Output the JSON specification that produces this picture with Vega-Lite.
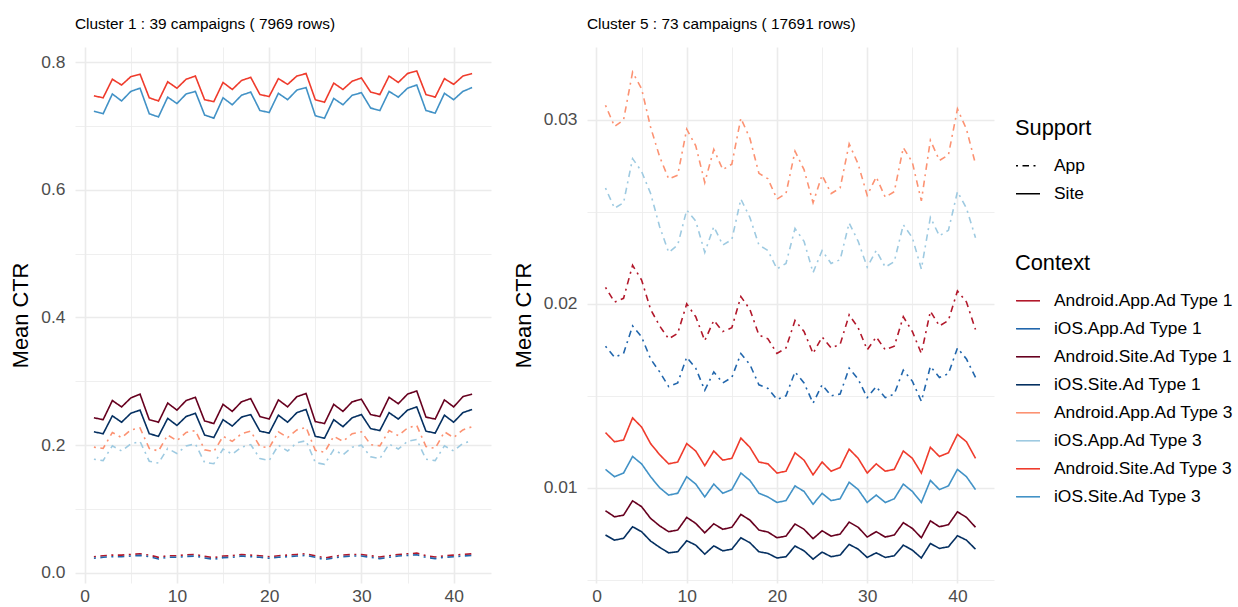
{
"$schema": "https://vega.github.io/schema/vega-lite/v6.json",
"padding": {"left": 10, "top": 17, "right": 5, "bottom": 0},
"background": "white",
"config": {
  "font": "Liberation Sans",
  "view": {"stroke": null},
  "axis": {"ticks": false, "domain": false, "gridColor": "#EBEBEB", "labelColor": "#4D4D4D", "labelFontSize": 17.4, "titleFontSize": 21.8, "titleFontWeight": "normal", "titleColor": "#000000"},
  "legend": {"labelFontSize": 17.4, "titleFontSize": 21.8, "titleFontWeight": "normal", "labelColor": "#000000", "titleColor": "#000000", "labelLimit": 400},
  "title": {"fontSize": 15.4, "fontWeight": "normal", "color": "#000000", "anchor": "start", "frame": "group", "offset": 14.5}
},
"data": {"values": [
{"p":"c1","c":"Android.App.Ad Type 1","s":"App","x":1,"y":0.0255},{"p":"c1","c":"Android.App.Ad Type 1","s":"App","x":2,"y":0.027},{"p":"c1","c":"Android.App.Ad Type 1","s":"App","x":3,"y":0.028},{"p":"c1","c":"Android.App.Ad Type 1","s":"App","x":4,"y":0.028},{"p":"c1","c":"Android.App.Ad Type 1","s":"App","x":5,"y":0.029},{"p":"c1","c":"Android.App.Ad Type 1","s":"App","x":6,"y":0.030},{"p":"c1","c":"Android.App.Ad Type 1","s":"App","x":7,"y":0.028},{"p":"c1","c":"Android.App.Ad Type 1","s":"App","x":8,"y":0.0245},{"p":"c1","c":"Android.App.Ad Type 1","s":"App","x":9,"y":0.027},{"p":"c1","c":"Android.App.Ad Type 1","s":"App","x":10,"y":0.027},{"p":"c1","c":"Android.App.Ad Type 1","s":"App","x":11,"y":0.0285},{"p":"c1","c":"Android.App.Ad Type 1","s":"App","x":12,"y":0.029},{"p":"c1","c":"Android.App.Ad Type 1","s":"App","x":13,"y":0.026},{"p":"c1","c":"Android.App.Ad Type 1","s":"App","x":14,"y":0.024},{"p":"c1","c":"Android.App.Ad Type 1","s":"App","x":15,"y":0.0265},{"p":"c1","c":"Android.App.Ad Type 1","s":"App","x":16,"y":0.027},{"p":"c1","c":"Android.App.Ad Type 1","s":"App","x":17,"y":0.029},{"p":"c1","c":"Android.App.Ad Type 1","s":"App","x":18,"y":0.028},{"p":"c1","c":"Android.App.Ad Type 1","s":"App","x":19,"y":0.027},{"p":"c1","c":"Android.App.Ad Type 1","s":"App","x":20,"y":0.0255},{"p":"c1","c":"Android.App.Ad Type 1","s":"App","x":21,"y":0.027},{"p":"c1","c":"Android.App.Ad Type 1","s":"App","x":22,"y":0.028},{"p":"c1","c":"Android.App.Ad Type 1","s":"App","x":23,"y":0.029},{"p":"c1","c":"Android.App.Ad Type 1","s":"App","x":24,"y":0.030},{"p":"c1","c":"Android.App.Ad Type 1","s":"App","x":25,"y":0.027},{"p":"c1","c":"Android.App.Ad Type 1","s":"App","x":26,"y":0.0235},{"p":"c1","c":"Android.App.Ad Type 1","s":"App","x":27,"y":0.026},{"p":"c1","c":"Android.App.Ad Type 1","s":"App","x":28,"y":0.028},{"p":"c1","c":"Android.App.Ad Type 1","s":"App","x":29,"y":0.029},{"p":"c1","c":"Android.App.Ad Type 1","s":"App","x":30,"y":0.029},{"p":"c1","c":"Android.App.Ad Type 1","s":"App","x":31,"y":0.027},{"p":"c1","c":"Android.App.Ad Type 1","s":"App","x":32,"y":0.025},{"p":"c1","c":"Android.App.Ad Type 1","s":"App","x":33,"y":0.027},{"p":"c1","c":"Android.App.Ad Type 1","s":"App","x":34,"y":0.029},{"p":"c1","c":"Android.App.Ad Type 1","s":"App","x":35,"y":0.030},{"p":"c1","c":"Android.App.Ad Type 1","s":"App","x":36,"y":0.031},{"p":"c1","c":"Android.App.Ad Type 1","s":"App","x":37,"y":0.027},{"p":"c1","c":"Android.App.Ad Type 1","s":"App","x":38,"y":0.025},{"p":"c1","c":"Android.App.Ad Type 1","s":"App","x":39,"y":0.027},{"p":"c1","c":"Android.App.Ad Type 1","s":"App","x":40,"y":0.028},{"p":"c1","c":"Android.App.Ad Type 1","s":"App","x":41,"y":0.029},{"p":"c1","c":"Android.App.Ad Type 1","s":"App","x":42,"y":0.030},
{"p":"c1","c":"iOS.App.Ad Type 1","s":"App","x":1,"y":0.023},{"p":"c1","c":"iOS.App.Ad Type 1","s":"App","x":2,"y":0.0245},{"p":"c1","c":"iOS.App.Ad Type 1","s":"App","x":3,"y":0.0255},{"p":"c1","c":"iOS.App.Ad Type 1","s":"App","x":4,"y":0.0255},{"p":"c1","c":"iOS.App.Ad Type 1","s":"App","x":5,"y":0.0265},{"p":"c1","c":"iOS.App.Ad Type 1","s":"App","x":6,"y":0.0275},{"p":"c1","c":"iOS.App.Ad Type 1","s":"App","x":7,"y":0.0255},{"p":"c1","c":"iOS.App.Ad Type 1","s":"App","x":8,"y":0.022},{"p":"c1","c":"iOS.App.Ad Type 1","s":"App","x":9,"y":0.0245},{"p":"c1","c":"iOS.App.Ad Type 1","s":"App","x":10,"y":0.0245},{"p":"c1","c":"iOS.App.Ad Type 1","s":"App","x":11,"y":0.026},{"p":"c1","c":"iOS.App.Ad Type 1","s":"App","x":12,"y":0.0265},{"p":"c1","c":"iOS.App.Ad Type 1","s":"App","x":13,"y":0.0235},{"p":"c1","c":"iOS.App.Ad Type 1","s":"App","x":14,"y":0.0215},{"p":"c1","c":"iOS.App.Ad Type 1","s":"App","x":15,"y":0.024},{"p":"c1","c":"iOS.App.Ad Type 1","s":"App","x":16,"y":0.0245},{"p":"c1","c":"iOS.App.Ad Type 1","s":"App","x":17,"y":0.0265},{"p":"c1","c":"iOS.App.Ad Type 1","s":"App","x":18,"y":0.0255},{"p":"c1","c":"iOS.App.Ad Type 1","s":"App","x":19,"y":0.0245},{"p":"c1","c":"iOS.App.Ad Type 1","s":"App","x":20,"y":0.023},{"p":"c1","c":"iOS.App.Ad Type 1","s":"App","x":21,"y":0.0245},{"p":"c1","c":"iOS.App.Ad Type 1","s":"App","x":22,"y":0.0255},{"p":"c1","c":"iOS.App.Ad Type 1","s":"App","x":23,"y":0.0265},{"p":"c1","c":"iOS.App.Ad Type 1","s":"App","x":24,"y":0.0275},{"p":"c1","c":"iOS.App.Ad Type 1","s":"App","x":25,"y":0.0245},{"p":"c1","c":"iOS.App.Ad Type 1","s":"App","x":26,"y":0.021},{"p":"c1","c":"iOS.App.Ad Type 1","s":"App","x":27,"y":0.0235},{"p":"c1","c":"iOS.App.Ad Type 1","s":"App","x":28,"y":0.0255},{"p":"c1","c":"iOS.App.Ad Type 1","s":"App","x":29,"y":0.0265},{"p":"c1","c":"iOS.App.Ad Type 1","s":"App","x":30,"y":0.0265},{"p":"c1","c":"iOS.App.Ad Type 1","s":"App","x":31,"y":0.0245},{"p":"c1","c":"iOS.App.Ad Type 1","s":"App","x":32,"y":0.0225},{"p":"c1","c":"iOS.App.Ad Type 1","s":"App","x":33,"y":0.0245},{"p":"c1","c":"iOS.App.Ad Type 1","s":"App","x":34,"y":0.0265},{"p":"c1","c":"iOS.App.Ad Type 1","s":"App","x":35,"y":0.0275},{"p":"c1","c":"iOS.App.Ad Type 1","s":"App","x":36,"y":0.0285},{"p":"c1","c":"iOS.App.Ad Type 1","s":"App","x":37,"y":0.0245},{"p":"c1","c":"iOS.App.Ad Type 1","s":"App","x":38,"y":0.0225},{"p":"c1","c":"iOS.App.Ad Type 1","s":"App","x":39,"y":0.0245},{"p":"c1","c":"iOS.App.Ad Type 1","s":"App","x":40,"y":0.0255},{"p":"c1","c":"iOS.App.Ad Type 1","s":"App","x":41,"y":0.0265},{"p":"c1","c":"iOS.App.Ad Type 1","s":"App","x":42,"y":0.0275},
{"p":"c1","c":"Android.Site.Ad Type 1","s":"Site","x":1,"y":0.243},{"p":"c1","c":"Android.Site.Ad Type 1","s":"Site","x":2,"y":0.240},{"p":"c1","c":"Android.Site.Ad Type 1","s":"Site","x":3,"y":0.270},{"p":"c1","c":"Android.Site.Ad Type 1","s":"Site","x":4,"y":0.260},{"p":"c1","c":"Android.Site.Ad Type 1","s":"Site","x":5,"y":0.274},{"p":"c1","c":"Android.Site.Ad Type 1","s":"Site","x":6,"y":0.280},{"p":"c1","c":"Android.Site.Ad Type 1","s":"Site","x":7,"y":0.240},{"p":"c1","c":"Android.Site.Ad Type 1","s":"Site","x":8,"y":0.236},{"p":"c1","c":"Android.Site.Ad Type 1","s":"Site","x":9,"y":0.266},{"p":"c1","c":"Android.Site.Ad Type 1","s":"Site","x":10,"y":0.255},{"p":"c1","c":"Android.Site.Ad Type 1","s":"Site","x":11,"y":0.270},{"p":"c1","c":"Android.Site.Ad Type 1","s":"Site","x":12,"y":0.275},{"p":"c1","c":"Android.Site.Ad Type 1","s":"Site","x":13,"y":0.238},{"p":"c1","c":"Android.Site.Ad Type 1","s":"Site","x":14,"y":0.234},{"p":"c1","c":"Android.Site.Ad Type 1","s":"Site","x":15,"y":0.264},{"p":"c1","c":"Android.Site.Ad Type 1","s":"Site","x":16,"y":0.253},{"p":"c1","c":"Android.Site.Ad Type 1","s":"Site","x":17,"y":0.268},{"p":"c1","c":"Android.Site.Ad Type 1","s":"Site","x":18,"y":0.273},{"p":"c1","c":"Android.Site.Ad Type 1","s":"Site","x":19,"y":0.245},{"p":"c1","c":"Android.Site.Ad Type 1","s":"Site","x":20,"y":0.241},{"p":"c1","c":"Android.Site.Ad Type 1","s":"Site","x":21,"y":0.271},{"p":"c1","c":"Android.Site.Ad Type 1","s":"Site","x":22,"y":0.260},{"p":"c1","c":"Android.Site.Ad Type 1","s":"Site","x":23,"y":0.276},{"p":"c1","c":"Android.Site.Ad Type 1","s":"Site","x":24,"y":0.281},{"p":"c1","c":"Android.Site.Ad Type 1","s":"Site","x":25,"y":0.237},{"p":"c1","c":"Android.Site.Ad Type 1","s":"Site","x":26,"y":0.234},{"p":"c1","c":"Android.Site.Ad Type 1","s":"Site","x":27,"y":0.264},{"p":"c1","c":"Android.Site.Ad Type 1","s":"Site","x":28,"y":0.253},{"p":"c1","c":"Android.Site.Ad Type 1","s":"Site","x":29,"y":0.268},{"p":"c1","c":"Android.Site.Ad Type 1","s":"Site","x":30,"y":0.272},{"p":"c1","c":"Android.Site.Ad Type 1","s":"Site","x":31,"y":0.248},{"p":"c1","c":"Android.Site.Ad Type 1","s":"Site","x":32,"y":0.245},{"p":"c1","c":"Android.Site.Ad Type 1","s":"Site","x":33,"y":0.275},{"p":"c1","c":"Android.Site.Ad Type 1","s":"Site","x":34,"y":0.265},{"p":"c1","c":"Android.Site.Ad Type 1","s":"Site","x":35,"y":0.280},{"p":"c1","c":"Android.Site.Ad Type 1","s":"Site","x":36,"y":0.285},{"p":"c1","c":"Android.Site.Ad Type 1","s":"Site","x":37,"y":0.244},{"p":"c1","c":"Android.Site.Ad Type 1","s":"Site","x":38,"y":0.241},{"p":"c1","c":"Android.Site.Ad Type 1","s":"Site","x":39,"y":0.271},{"p":"c1","c":"Android.Site.Ad Type 1","s":"Site","x":40,"y":0.260},{"p":"c1","c":"Android.Site.Ad Type 1","s":"Site","x":41,"y":0.276},{"p":"c1","c":"Android.Site.Ad Type 1","s":"Site","x":42,"y":0.280},
{"p":"c1","c":"iOS.Site.Ad Type 1","s":"Site","x":1,"y":0.221},{"p":"c1","c":"iOS.Site.Ad Type 1","s":"Site","x":2,"y":0.218},{"p":"c1","c":"iOS.Site.Ad Type 1","s":"Site","x":3,"y":0.246},{"p":"c1","c":"iOS.Site.Ad Type 1","s":"Site","x":4,"y":0.236},{"p":"c1","c":"iOS.Site.Ad Type 1","s":"Site","x":5,"y":0.250},{"p":"c1","c":"iOS.Site.Ad Type 1","s":"Site","x":6,"y":0.255},{"p":"c1","c":"iOS.Site.Ad Type 1","s":"Site","x":7,"y":0.218},{"p":"c1","c":"iOS.Site.Ad Type 1","s":"Site","x":8,"y":0.214},{"p":"c1","c":"iOS.Site.Ad Type 1","s":"Site","x":9,"y":0.242},{"p":"c1","c":"iOS.Site.Ad Type 1","s":"Site","x":10,"y":0.231},{"p":"c1","c":"iOS.Site.Ad Type 1","s":"Site","x":11,"y":0.245},{"p":"c1","c":"iOS.Site.Ad Type 1","s":"Site","x":12,"y":0.250},{"p":"c1","c":"iOS.Site.Ad Type 1","s":"Site","x":13,"y":0.216},{"p":"c1","c":"iOS.Site.Ad Type 1","s":"Site","x":14,"y":0.212},{"p":"c1","c":"iOS.Site.Ad Type 1","s":"Site","x":15,"y":0.240},{"p":"c1","c":"iOS.Site.Ad Type 1","s":"Site","x":16,"y":0.230},{"p":"c1","c":"iOS.Site.Ad Type 1","s":"Site","x":17,"y":0.244},{"p":"c1","c":"iOS.Site.Ad Type 1","s":"Site","x":18,"y":0.248},{"p":"c1","c":"iOS.Site.Ad Type 1","s":"Site","x":19,"y":0.222},{"p":"c1","c":"iOS.Site.Ad Type 1","s":"Site","x":20,"y":0.219},{"p":"c1","c":"iOS.Site.Ad Type 1","s":"Site","x":21,"y":0.247},{"p":"c1","c":"iOS.Site.Ad Type 1","s":"Site","x":22,"y":0.236},{"p":"c1","c":"iOS.Site.Ad Type 1","s":"Site","x":23,"y":0.251},{"p":"c1","c":"iOS.Site.Ad Type 1","s":"Site","x":24,"y":0.256},{"p":"c1","c":"iOS.Site.Ad Type 1","s":"Site","x":25,"y":0.214},{"p":"c1","c":"iOS.Site.Ad Type 1","s":"Site","x":26,"y":0.211},{"p":"c1","c":"iOS.Site.Ad Type 1","s":"Site","x":27,"y":0.240},{"p":"c1","c":"iOS.Site.Ad Type 1","s":"Site","x":28,"y":0.229},{"p":"c1","c":"iOS.Site.Ad Type 1","s":"Site","x":29,"y":0.243},{"p":"c1","c":"iOS.Site.Ad Type 1","s":"Site","x":30,"y":0.248},{"p":"c1","c":"iOS.Site.Ad Type 1","s":"Site","x":31,"y":0.226},{"p":"c1","c":"iOS.Site.Ad Type 1","s":"Site","x":32,"y":0.223},{"p":"c1","c":"iOS.Site.Ad Type 1","s":"Site","x":33,"y":0.251},{"p":"c1","c":"iOS.Site.Ad Type 1","s":"Site","x":34,"y":0.241},{"p":"c1","c":"iOS.Site.Ad Type 1","s":"Site","x":35,"y":0.255},{"p":"c1","c":"iOS.Site.Ad Type 1","s":"Site","x":36,"y":0.260},{"p":"c1","c":"iOS.Site.Ad Type 1","s":"Site","x":37,"y":0.222},{"p":"c1","c":"iOS.Site.Ad Type 1","s":"Site","x":38,"y":0.219},{"p":"c1","c":"iOS.Site.Ad Type 1","s":"Site","x":39,"y":0.247},{"p":"c1","c":"iOS.Site.Ad Type 1","s":"Site","x":40,"y":0.236},{"p":"c1","c":"iOS.Site.Ad Type 1","s":"Site","x":41,"y":0.251},{"p":"c1","c":"iOS.Site.Ad Type 1","s":"Site","x":42,"y":0.256},
{"p":"c1","c":"Android.App.Ad Type 3","s":"App","x":1,"y":0.197},{"p":"c1","c":"Android.App.Ad Type 3","s":"App","x":2,"y":0.195},{"p":"c1","c":"Android.App.Ad Type 3","s":"App","x":3,"y":0.220},{"p":"c1","c":"Android.App.Ad Type 3","s":"App","x":4,"y":0.212},{"p":"c1","c":"Android.App.Ad Type 3","s":"App","x":5,"y":0.224},{"p":"c1","c":"Android.App.Ad Type 3","s":"App","x":6,"y":0.227},{"p":"c1","c":"Android.App.Ad Type 3","s":"App","x":7,"y":0.195},{"p":"c1","c":"Android.App.Ad Type 3","s":"App","x":8,"y":0.191},{"p":"c1","c":"Android.App.Ad Type 3","s":"App","x":9,"y":0.216},{"p":"c1","c":"Android.App.Ad Type 3","s":"App","x":10,"y":0.207},{"p":"c1","c":"Android.App.Ad Type 3","s":"App","x":11,"y":0.220},{"p":"c1","c":"Android.App.Ad Type 3","s":"App","x":12,"y":0.223},{"p":"c1","c":"Android.App.Ad Type 3","s":"App","x":13,"y":0.193},{"p":"c1","c":"Android.App.Ad Type 3","s":"App","x":14,"y":0.190},{"p":"c1","c":"Android.App.Ad Type 3","s":"App","x":15,"y":0.214},{"p":"c1","c":"Android.App.Ad Type 3","s":"App","x":16,"y":0.206},{"p":"c1","c":"Android.App.Ad Type 3","s":"App","x":17,"y":0.218},{"p":"c1","c":"Android.App.Ad Type 3","s":"App","x":18,"y":0.222},{"p":"c1","c":"Android.App.Ad Type 3","s":"App","x":19,"y":0.198},{"p":"c1","c":"Android.App.Ad Type 3","s":"App","x":20,"y":0.196},{"p":"c1","c":"Android.App.Ad Type 3","s":"App","x":21,"y":0.221},{"p":"c1","c":"Android.App.Ad Type 3","s":"App","x":22,"y":0.212},{"p":"c1","c":"Android.App.Ad Type 3","s":"App","x":23,"y":0.224},{"p":"c1","c":"Android.App.Ad Type 3","s":"App","x":24,"y":0.228},{"p":"c1","c":"Android.App.Ad Type 3","s":"App","x":25,"y":0.192},{"p":"c1","c":"Android.App.Ad Type 3","s":"App","x":26,"y":0.189},{"p":"c1","c":"Android.App.Ad Type 3","s":"App","x":27,"y":0.214},{"p":"c1","c":"Android.App.Ad Type 3","s":"App","x":28,"y":0.206},{"p":"c1","c":"Android.App.Ad Type 3","s":"App","x":29,"y":0.218},{"p":"c1","c":"Android.App.Ad Type 3","s":"App","x":30,"y":0.221},{"p":"c1","c":"Android.App.Ad Type 3","s":"App","x":31,"y":0.201},{"p":"c1","c":"Android.App.Ad Type 3","s":"App","x":32,"y":0.199},{"p":"c1","c":"Android.App.Ad Type 3","s":"App","x":33,"y":0.223},{"p":"c1","c":"Android.App.Ad Type 3","s":"App","x":34,"y":0.215},{"p":"c1","c":"Android.App.Ad Type 3","s":"App","x":35,"y":0.227},{"p":"c1","c":"Android.App.Ad Type 3","s":"App","x":36,"y":0.231},{"p":"c1","c":"Android.App.Ad Type 3","s":"App","x":37,"y":0.198},{"p":"c1","c":"Android.App.Ad Type 3","s":"App","x":38,"y":0.195},{"p":"c1","c":"Android.App.Ad Type 3","s":"App","x":39,"y":0.221},{"p":"c1","c":"Android.App.Ad Type 3","s":"App","x":40,"y":0.212},{"p":"c1","c":"Android.App.Ad Type 3","s":"App","x":41,"y":0.224},{"p":"c1","c":"Android.App.Ad Type 3","s":"App","x":42,"y":0.229},
{"p":"c1","c":"iOS.App.Ad Type 3","s":"App","x":1,"y":0.178},{"p":"c1","c":"iOS.App.Ad Type 3","s":"App","x":2,"y":0.176},{"p":"c1","c":"iOS.App.Ad Type 3","s":"App","x":3,"y":0.199},{"p":"c1","c":"iOS.App.Ad Type 3","s":"App","x":4,"y":0.191},{"p":"c1","c":"iOS.App.Ad Type 3","s":"App","x":5,"y":0.202},{"p":"c1","c":"iOS.App.Ad Type 3","s":"App","x":6,"y":0.206},{"p":"c1","c":"iOS.App.Ad Type 3","s":"App","x":7,"y":0.175},{"p":"c1","c":"iOS.App.Ad Type 3","s":"App","x":8,"y":0.172},{"p":"c1","c":"iOS.App.Ad Type 3","s":"App","x":9,"y":0.195},{"p":"c1","c":"iOS.App.Ad Type 3","s":"App","x":10,"y":0.187},{"p":"c1","c":"iOS.App.Ad Type 3","s":"App","x":11,"y":0.199},{"p":"c1","c":"iOS.App.Ad Type 3","s":"App","x":12,"y":0.202},{"p":"c1","c":"iOS.App.Ad Type 3","s":"App","x":13,"y":0.173},{"p":"c1","c":"iOS.App.Ad Type 3","s":"App","x":14,"y":0.171},{"p":"c1","c":"iOS.App.Ad Type 3","s":"App","x":15,"y":0.194},{"p":"c1","c":"iOS.App.Ad Type 3","s":"App","x":16,"y":0.186},{"p":"c1","c":"iOS.App.Ad Type 3","s":"App","x":17,"y":0.197},{"p":"c1","c":"iOS.App.Ad Type 3","s":"App","x":18,"y":0.201},{"p":"c1","c":"iOS.App.Ad Type 3","s":"App","x":19,"y":0.179},{"p":"c1","c":"iOS.App.Ad Type 3","s":"App","x":20,"y":0.176},{"p":"c1","c":"iOS.App.Ad Type 3","s":"App","x":21,"y":0.200},{"p":"c1","c":"iOS.App.Ad Type 3","s":"App","x":22,"y":0.191},{"p":"c1","c":"iOS.App.Ad Type 3","s":"App","x":23,"y":0.204},{"p":"c1","c":"iOS.App.Ad Type 3","s":"App","x":24,"y":0.207},{"p":"c1","c":"iOS.App.Ad Type 3","s":"App","x":25,"y":0.173},{"p":"c1","c":"iOS.App.Ad Type 3","s":"App","x":26,"y":0.170},{"p":"c1","c":"iOS.App.Ad Type 3","s":"App","x":27,"y":0.193},{"p":"c1","c":"iOS.App.Ad Type 3","s":"App","x":28,"y":0.185},{"p":"c1","c":"iOS.App.Ad Type 3","s":"App","x":29,"y":0.197},{"p":"c1","c":"iOS.App.Ad Type 3","s":"App","x":30,"y":0.200},{"p":"c1","c":"iOS.App.Ad Type 3","s":"App","x":31,"y":0.182},{"p":"c1","c":"iOS.App.Ad Type 3","s":"App","x":32,"y":0.179},{"p":"c1","c":"iOS.App.Ad Type 3","s":"App","x":33,"y":0.202},{"p":"c1","c":"iOS.App.Ad Type 3","s":"App","x":34,"y":0.194},{"p":"c1","c":"iOS.App.Ad Type 3","s":"App","x":35,"y":0.206},{"p":"c1","c":"iOS.App.Ad Type 3","s":"App","x":36,"y":0.209},{"p":"c1","c":"iOS.App.Ad Type 3","s":"App","x":37,"y":0.178},{"p":"c1","c":"iOS.App.Ad Type 3","s":"App","x":38,"y":0.176},{"p":"c1","c":"iOS.App.Ad Type 3","s":"App","x":39,"y":0.199},{"p":"c1","c":"iOS.App.Ad Type 3","s":"App","x":40,"y":0.191},{"p":"c1","c":"iOS.App.Ad Type 3","s":"App","x":41,"y":0.203},{"p":"c1","c":"iOS.App.Ad Type 3","s":"App","x":42,"y":0.207},
{"p":"c1","c":"Android.Site.Ad Type 3","s":"Site","x":1,"y":0.747},{"p":"c1","c":"Android.Site.Ad Type 3","s":"Site","x":2,"y":0.744},{"p":"c1","c":"Android.Site.Ad Type 3","s":"Site","x":3,"y":0.773},{"p":"c1","c":"Android.Site.Ad Type 3","s":"Site","x":4,"y":0.764},{"p":"c1","c":"Android.Site.Ad Type 3","s":"Site","x":5,"y":0.777},{"p":"c1","c":"Android.Site.Ad Type 3","s":"Site","x":6,"y":0.781},{"p":"c1","c":"Android.Site.Ad Type 3","s":"Site","x":7,"y":0.744},{"p":"c1","c":"Android.Site.Ad Type 3","s":"Site","x":8,"y":0.739},{"p":"c1","c":"Android.Site.Ad Type 3","s":"Site","x":9,"y":0.769},{"p":"c1","c":"Android.Site.Ad Type 3","s":"Site","x":10,"y":0.759},{"p":"c1","c":"Android.Site.Ad Type 3","s":"Site","x":11,"y":0.773},{"p":"c1","c":"Android.Site.Ad Type 3","s":"Site","x":12,"y":0.778},{"p":"c1","c":"Android.Site.Ad Type 3","s":"Site","x":13,"y":0.741},{"p":"c1","c":"Android.Site.Ad Type 3","s":"Site","x":14,"y":0.738},{"p":"c1","c":"Android.Site.Ad Type 3","s":"Site","x":15,"y":0.768},{"p":"c1","c":"Android.Site.Ad Type 3","s":"Site","x":16,"y":0.757},{"p":"c1","c":"Android.Site.Ad Type 3","s":"Site","x":17,"y":0.771},{"p":"c1","c":"Android.Site.Ad Type 3","s":"Site","x":18,"y":0.776},{"p":"c1","c":"Android.Site.Ad Type 3","s":"Site","x":19,"y":0.749},{"p":"c1","c":"Android.Site.Ad Type 3","s":"Site","x":20,"y":0.746},{"p":"c1","c":"Android.Site.Ad Type 3","s":"Site","x":21,"y":0.774},{"p":"c1","c":"Android.Site.Ad Type 3","s":"Site","x":22,"y":0.765},{"p":"c1","c":"Android.Site.Ad Type 3","s":"Site","x":23,"y":0.778},{"p":"c1","c":"Android.Site.Ad Type 3","s":"Site","x":24,"y":0.782},{"p":"c1","c":"Android.Site.Ad Type 3","s":"Site","x":25,"y":0.741},{"p":"c1","c":"Android.Site.Ad Type 3","s":"Site","x":26,"y":0.737},{"p":"c1","c":"Android.Site.Ad Type 3","s":"Site","x":27,"y":0.767},{"p":"c1","c":"Android.Site.Ad Type 3","s":"Site","x":28,"y":0.757},{"p":"c1","c":"Android.Site.Ad Type 3","s":"Site","x":29,"y":0.770},{"p":"c1","c":"Android.Site.Ad Type 3","s":"Site","x":30,"y":0.775},{"p":"c1","c":"Android.Site.Ad Type 3","s":"Site","x":31,"y":0.753},{"p":"c1","c":"Android.Site.Ad Type 3","s":"Site","x":32,"y":0.749},{"p":"c1","c":"Android.Site.Ad Type 3","s":"Site","x":33,"y":0.778},{"p":"c1","c":"Android.Site.Ad Type 3","s":"Site","x":34,"y":0.768},{"p":"c1","c":"Android.Site.Ad Type 3","s":"Site","x":35,"y":0.782},{"p":"c1","c":"Android.Site.Ad Type 3","s":"Site","x":36,"y":0.786},{"p":"c1","c":"Android.Site.Ad Type 3","s":"Site","x":37,"y":0.749},{"p":"c1","c":"Android.Site.Ad Type 3","s":"Site","x":38,"y":0.745},{"p":"c1","c":"Android.Site.Ad Type 3","s":"Site","x":39,"y":0.774},{"p":"c1","c":"Android.Site.Ad Type 3","s":"Site","x":40,"y":0.765},{"p":"c1","c":"Android.Site.Ad Type 3","s":"Site","x":41,"y":0.778},{"p":"c1","c":"Android.Site.Ad Type 3","s":"Site","x":42,"y":0.782},
{"p":"c1","c":"iOS.Site.Ad Type 3","s":"Site","x":1,"y":0.723},{"p":"c1","c":"iOS.Site.Ad Type 3","s":"Site","x":2,"y":0.719},{"p":"c1","c":"iOS.Site.Ad Type 3","s":"Site","x":3,"y":0.750},{"p":"c1","c":"iOS.Site.Ad Type 3","s":"Site","x":4,"y":0.739},{"p":"c1","c":"iOS.Site.Ad Type 3","s":"Site","x":5,"y":0.754},{"p":"c1","c":"iOS.Site.Ad Type 3","s":"Site","x":6,"y":0.759},{"p":"c1","c":"iOS.Site.Ad Type 3","s":"Site","x":7,"y":0.719},{"p":"c1","c":"iOS.Site.Ad Type 3","s":"Site","x":8,"y":0.714},{"p":"c1","c":"iOS.Site.Ad Type 3","s":"Site","x":9,"y":0.745},{"p":"c1","c":"iOS.Site.Ad Type 3","s":"Site","x":10,"y":0.735},{"p":"c1","c":"iOS.Site.Ad Type 3","s":"Site","x":11,"y":0.750},{"p":"c1","c":"iOS.Site.Ad Type 3","s":"Site","x":12,"y":0.754},{"p":"c1","c":"iOS.Site.Ad Type 3","s":"Site","x":13,"y":0.717},{"p":"c1","c":"iOS.Site.Ad Type 3","s":"Site","x":14,"y":0.712},{"p":"c1","c":"iOS.Site.Ad Type 3","s":"Site","x":15,"y":0.744},{"p":"c1","c":"iOS.Site.Ad Type 3","s":"Site","x":16,"y":0.733},{"p":"c1","c":"iOS.Site.Ad Type 3","s":"Site","x":17,"y":0.748},{"p":"c1","c":"iOS.Site.Ad Type 3","s":"Site","x":18,"y":0.753},{"p":"c1","c":"iOS.Site.Ad Type 3","s":"Site","x":19,"y":0.724},{"p":"c1","c":"iOS.Site.Ad Type 3","s":"Site","x":20,"y":0.721},{"p":"c1","c":"iOS.Site.Ad Type 3","s":"Site","x":21,"y":0.751},{"p":"c1","c":"iOS.Site.Ad Type 3","s":"Site","x":22,"y":0.741},{"p":"c1","c":"iOS.Site.Ad Type 3","s":"Site","x":23,"y":0.756},{"p":"c1","c":"iOS.Site.Ad Type 3","s":"Site","x":24,"y":0.760},{"p":"c1","c":"iOS.Site.Ad Type 3","s":"Site","x":25,"y":0.716},{"p":"c1","c":"iOS.Site.Ad Type 3","s":"Site","x":26,"y":0.712},{"p":"c1","c":"iOS.Site.Ad Type 3","s":"Site","x":27,"y":0.743},{"p":"c1","c":"iOS.Site.Ad Type 3","s":"Site","x":28,"y":0.733},{"p":"c1","c":"iOS.Site.Ad Type 3","s":"Site","x":29,"y":0.748},{"p":"c1","c":"iOS.Site.Ad Type 3","s":"Site","x":30,"y":0.752},{"p":"c1","c":"iOS.Site.Ad Type 3","s":"Site","x":31,"y":0.728},{"p":"c1","c":"iOS.Site.Ad Type 3","s":"Site","x":32,"y":0.724},{"p":"c1","c":"iOS.Site.Ad Type 3","s":"Site","x":33,"y":0.754},{"p":"c1","c":"iOS.Site.Ad Type 3","s":"Site","x":34,"y":0.745},{"p":"c1","c":"iOS.Site.Ad Type 3","s":"Site","x":35,"y":0.759},{"p":"c1","c":"iOS.Site.Ad Type 3","s":"Site","x":36,"y":0.764},{"p":"c1","c":"iOS.Site.Ad Type 3","s":"Site","x":37,"y":0.724},{"p":"c1","c":"iOS.Site.Ad Type 3","s":"Site","x":38,"y":0.720},{"p":"c1","c":"iOS.Site.Ad Type 3","s":"Site","x":39,"y":0.751},{"p":"c1","c":"iOS.Site.Ad Type 3","s":"Site","x":40,"y":0.741},{"p":"c1","c":"iOS.Site.Ad Type 3","s":"Site","x":41,"y":0.754},{"p":"c1","c":"iOS.Site.Ad Type 3","s":"Site","x":42,"y":0.760},
{"p":"c5","c":"Android.App.Ad Type 1","s":"App","x":1,"y":0.0209},{"p":"c5","c":"Android.App.Ad Type 1","s":"App","x":2,"y":0.0201},{"p":"c5","c":"Android.App.Ad Type 1","s":"App","x":3,"y":0.0203},{"p":"c5","c":"Android.App.Ad Type 1","s":"App","x":4,"y":0.0221},{"p":"c5","c":"Android.App.Ad Type 1","s":"App","x":5,"y":0.0213},{"p":"c5","c":"Android.App.Ad Type 1","s":"App","x":6,"y":0.0197},{"p":"c5","c":"Android.App.Ad Type 1","s":"App","x":7,"y":0.0188},{"p":"c5","c":"Android.App.Ad Type 1","s":"App","x":8,"y":0.0181},{"p":"c5","c":"Android.App.Ad Type 1","s":"App","x":9,"y":0.0184},{"p":"c5","c":"Android.App.Ad Type 1","s":"App","x":10,"y":0.0200},{"p":"c5","c":"Android.App.Ad Type 1","s":"App","x":11,"y":0.0193},{"p":"c5","c":"Android.App.Ad Type 1","s":"App","x":12,"y":0.0180},{"p":"c5","c":"Android.App.Ad Type 1","s":"App","x":13,"y":0.0191},{"p":"c5","c":"Android.App.Ad Type 1","s":"App","x":14,"y":0.0185},{"p":"c5","c":"Android.App.Ad Type 1","s":"App","x":15,"y":0.0187},{"p":"c5","c":"Android.App.Ad Type 1","s":"App","x":16,"y":0.0204},{"p":"c5","c":"Android.App.Ad Type 1","s":"App","x":17,"y":0.0197},{"p":"c5","c":"Android.App.Ad Type 1","s":"App","x":18,"y":0.0183},{"p":"c5","c":"Android.App.Ad Type 1","s":"App","x":19,"y":0.0181},{"p":"c5","c":"Android.App.Ad Type 1","s":"App","x":20,"y":0.0173},{"p":"c5","c":"Android.App.Ad Type 1","s":"App","x":21,"y":0.0176},{"p":"c5","c":"Android.App.Ad Type 1","s":"App","x":22,"y":0.0191},{"p":"c5","c":"Android.App.Ad Type 1","s":"App","x":23,"y":0.0185},{"p":"c5","c":"Android.App.Ad Type 1","s":"App","x":24,"y":0.0173},{"p":"c5","c":"Android.App.Ad Type 1","s":"App","x":25,"y":0.0182},{"p":"c5","c":"Android.App.Ad Type 1","s":"App","x":26,"y":0.0176},{"p":"c5","c":"Android.App.Ad Type 1","s":"App","x":27,"y":0.0178},{"p":"c5","c":"Android.App.Ad Type 1","s":"App","x":28,"y":0.0194},{"p":"c5","c":"Android.App.Ad Type 1","s":"App","x":29,"y":0.0187},{"p":"c5","c":"Android.App.Ad Type 1","s":"App","x":30,"y":0.0175},{"p":"c5","c":"Android.App.Ad Type 1","s":"App","x":31,"y":0.0182},{"p":"c5","c":"Android.App.Ad Type 1","s":"App","x":32,"y":0.0175},{"p":"c5","c":"Android.App.Ad Type 1","s":"App","x":33,"y":0.0177},{"p":"c5","c":"Android.App.Ad Type 1","s":"App","x":34,"y":0.0193},{"p":"c5","c":"Android.App.Ad Type 1","s":"App","x":35,"y":0.0185},{"p":"c5","c":"Android.App.Ad Type 1","s":"App","x":36,"y":0.0173},{"p":"c5","c":"Android.App.Ad Type 1","s":"App","x":37,"y":0.0196},{"p":"c5","c":"Android.App.Ad Type 1","s":"App","x":38,"y":0.0188},{"p":"c5","c":"Android.App.Ad Type 1","s":"App","x":39,"y":0.0191},{"p":"c5","c":"Android.App.Ad Type 1","s":"App","x":40,"y":0.0207},{"p":"c5","c":"Android.App.Ad Type 1","s":"App","x":41,"y":0.0201},{"p":"c5","c":"Android.App.Ad Type 1","s":"App","x":42,"y":0.0186},
{"p":"c5","c":"iOS.App.Ad Type 1","s":"App","x":1,"y":0.0177},{"p":"c5","c":"iOS.App.Ad Type 1","s":"App","x":2,"y":0.0171},{"p":"c5","c":"iOS.App.Ad Type 1","s":"App","x":3,"y":0.0173},{"p":"c5","c":"iOS.App.Ad Type 1","s":"App","x":4,"y":0.0188},{"p":"c5","c":"iOS.App.Ad Type 1","s":"App","x":5,"y":0.0182},{"p":"c5","c":"iOS.App.Ad Type 1","s":"App","x":6,"y":0.0170},{"p":"c5","c":"iOS.App.Ad Type 1","s":"App","x":7,"y":0.0163},{"p":"c5","c":"iOS.App.Ad Type 1","s":"App","x":8,"y":0.0155},{"p":"c5","c":"iOS.App.Ad Type 1","s":"App","x":9,"y":0.0157},{"p":"c5","c":"iOS.App.Ad Type 1","s":"App","x":10,"y":0.0171},{"p":"c5","c":"iOS.App.Ad Type 1","s":"App","x":11,"y":0.0165},{"p":"c5","c":"iOS.App.Ad Type 1","s":"App","x":12,"y":0.0153},{"p":"c5","c":"iOS.App.Ad Type 1","s":"App","x":13,"y":0.0163},{"p":"c5","c":"iOS.App.Ad Type 1","s":"App","x":14,"y":0.0157},{"p":"c5","c":"iOS.App.Ad Type 1","s":"App","x":15,"y":0.0160},{"p":"c5","c":"iOS.App.Ad Type 1","s":"App","x":16,"y":0.0173},{"p":"c5","c":"iOS.App.Ad Type 1","s":"App","x":17,"y":0.0167},{"p":"c5","c":"iOS.App.Ad Type 1","s":"App","x":18,"y":0.0156},{"p":"c5","c":"iOS.App.Ad Type 1","s":"App","x":19,"y":0.0154},{"p":"c5","c":"iOS.App.Ad Type 1","s":"App","x":20,"y":0.0148},{"p":"c5","c":"iOS.App.Ad Type 1","s":"App","x":21,"y":0.0150},{"p":"c5","c":"iOS.App.Ad Type 1","s":"App","x":22,"y":0.0163},{"p":"c5","c":"iOS.App.Ad Type 1","s":"App","x":23,"y":0.0157},{"p":"c5","c":"iOS.App.Ad Type 1","s":"App","x":24,"y":0.0146},{"p":"c5","c":"iOS.App.Ad Type 1","s":"App","x":25,"y":0.0156},{"p":"c5","c":"iOS.App.Ad Type 1","s":"App","x":26,"y":0.0150},{"p":"c5","c":"iOS.App.Ad Type 1","s":"App","x":27,"y":0.0151},{"p":"c5","c":"iOS.App.Ad Type 1","s":"App","x":28,"y":0.0165},{"p":"c5","c":"iOS.App.Ad Type 1","s":"App","x":29,"y":0.0159},{"p":"c5","c":"iOS.App.Ad Type 1","s":"App","x":30,"y":0.0149},{"p":"c5","c":"iOS.App.Ad Type 1","s":"App","x":31,"y":0.0155},{"p":"c5","c":"iOS.App.Ad Type 1","s":"App","x":32,"y":0.0149},{"p":"c5","c":"iOS.App.Ad Type 1","s":"App","x":33,"y":0.0151},{"p":"c5","c":"iOS.App.Ad Type 1","s":"App","x":34,"y":0.0164},{"p":"c5","c":"iOS.App.Ad Type 1","s":"App","x":35,"y":0.0158},{"p":"c5","c":"iOS.App.Ad Type 1","s":"App","x":36,"y":0.0147},{"p":"c5","c":"iOS.App.Ad Type 1","s":"App","x":37,"y":0.0166},{"p":"c5","c":"iOS.App.Ad Type 1","s":"App","x":38,"y":0.0160},{"p":"c5","c":"iOS.App.Ad Type 1","s":"App","x":39,"y":0.0162},{"p":"c5","c":"iOS.App.Ad Type 1","s":"App","x":40,"y":0.0176},{"p":"c5","c":"iOS.App.Ad Type 1","s":"App","x":41,"y":0.0170},{"p":"c5","c":"iOS.App.Ad Type 1","s":"App","x":42,"y":0.0160},
{"p":"c5","c":"Android.Site.Ad Type 1","s":"Site","x":1,"y":0.00875},{"p":"c5","c":"Android.Site.Ad Type 1","s":"Site","x":2,"y":0.00842},{"p":"c5","c":"Android.Site.Ad Type 1","s":"Site","x":3,"y":0.00851},{"p":"c5","c":"Android.Site.Ad Type 1","s":"Site","x":4,"y":0.00929},{"p":"c5","c":"Android.Site.Ad Type 1","s":"Site","x":5,"y":0.00897},{"p":"c5","c":"Android.Site.Ad Type 1","s":"Site","x":6,"y":0.00833},{"p":"c5","c":"Android.Site.Ad Type 1","s":"Site","x":7,"y":0.00793},{"p":"c5","c":"Android.Site.Ad Type 1","s":"Site","x":8,"y":0.00761},{"p":"c5","c":"Android.Site.Ad Type 1","s":"Site","x":9,"y":0.00770},{"p":"c5","c":"Android.Site.Ad Type 1","s":"Site","x":10,"y":0.00839},{"p":"c5","c":"Android.Site.Ad Type 1","s":"Site","x":11,"y":0.00806},{"p":"c5","c":"Android.Site.Ad Type 1","s":"Site","x":12,"y":0.00755},{"p":"c5","c":"Android.Site.Ad Type 1","s":"Site","x":13,"y":0.00804},{"p":"c5","c":"Android.Site.Ad Type 1","s":"Site","x":14,"y":0.00774},{"p":"c5","c":"Android.Site.Ad Type 1","s":"Site","x":15,"y":0.00785},{"p":"c5","c":"Android.Site.Ad Type 1","s":"Site","x":16,"y":0.00855},{"p":"c5","c":"Android.Site.Ad Type 1","s":"Site","x":17,"y":0.00824},{"p":"c5","c":"Android.Site.Ad Type 1","s":"Site","x":18,"y":0.00770},{"p":"c5","c":"Android.Site.Ad Type 1","s":"Site","x":19,"y":0.00759},{"p":"c5","c":"Android.Site.Ad Type 1","s":"Site","x":20,"y":0.00728},{"p":"c5","c":"Android.Site.Ad Type 1","s":"Site","x":21,"y":0.00737},{"p":"c5","c":"Android.Site.Ad Type 1","s":"Site","x":22,"y":0.00803},{"p":"c5","c":"Android.Site.Ad Type 1","s":"Site","x":23,"y":0.00774},{"p":"c5","c":"Android.Site.Ad Type 1","s":"Site","x":24,"y":0.00723},{"p":"c5","c":"Android.Site.Ad Type 1","s":"Site","x":25,"y":0.00766},{"p":"c5","c":"Android.Site.Ad Type 1","s":"Site","x":26,"y":0.00737},{"p":"c5","c":"Android.Site.Ad Type 1","s":"Site","x":27,"y":0.00748},{"p":"c5","c":"Android.Site.Ad Type 1","s":"Site","x":28,"y":0.00813},{"p":"c5","c":"Android.Site.Ad Type 1","s":"Site","x":29,"y":0.00785},{"p":"c5","c":"Android.Site.Ad Type 1","s":"Site","x":30,"y":0.00732},{"p":"c5","c":"Android.Site.Ad Type 1","s":"Site","x":31,"y":0.00761},{"p":"c5","c":"Android.Site.Ad Type 1","s":"Site","x":32,"y":0.00732},{"p":"c5","c":"Android.Site.Ad Type 1","s":"Site","x":33,"y":0.00743},{"p":"c5","c":"Android.Site.Ad Type 1","s":"Site","x":34,"y":0.00810},{"p":"c5","c":"Android.Site.Ad Type 1","s":"Site","x":35,"y":0.00779},{"p":"c5","c":"Android.Site.Ad Type 1","s":"Site","x":36,"y":0.00728},{"p":"c5","c":"Android.Site.Ad Type 1","s":"Site","x":37,"y":0.00820},{"p":"c5","c":"Android.Site.Ad Type 1","s":"Site","x":38,"y":0.00788},{"p":"c5","c":"Android.Site.Ad Type 1","s":"Site","x":39,"y":0.00799},{"p":"c5","c":"Android.Site.Ad Type 1","s":"Site","x":40,"y":0.00869},{"p":"c5","c":"Android.Site.Ad Type 1","s":"Site","x":41,"y":0.00839},{"p":"c5","c":"Android.Site.Ad Type 1","s":"Site","x":42,"y":0.00785},
{"p":"c5","c":"iOS.Site.Ad Type 1","s":"Site","x":1,"y":0.00743},{"p":"c5","c":"iOS.Site.Ad Type 1","s":"Site","x":2,"y":0.00715},{"p":"c5","c":"iOS.Site.Ad Type 1","s":"Site","x":3,"y":0.00725},{"p":"c5","c":"iOS.Site.Ad Type 1","s":"Site","x":4,"y":0.00788},{"p":"c5","c":"iOS.Site.Ad Type 1","s":"Site","x":5,"y":0.00761},{"p":"c5","c":"iOS.Site.Ad Type 1","s":"Site","x":6,"y":0.00710},{"p":"c5","c":"iOS.Site.Ad Type 1","s":"Site","x":7,"y":0.00676},{"p":"c5","c":"iOS.Site.Ad Type 1","s":"Site","x":8,"y":0.00646},{"p":"c5","c":"iOS.Site.Ad Type 1","s":"Site","x":9,"y":0.00652},{"p":"c5","c":"iOS.Site.Ad Type 1","s":"Site","x":10,"y":0.00712},{"p":"c5","c":"iOS.Site.Ad Type 1","s":"Site","x":11,"y":0.00688},{"p":"c5","c":"iOS.Site.Ad Type 1","s":"Site","x":12,"y":0.00639},{"p":"c5","c":"iOS.Site.Ad Type 1","s":"Site","x":13,"y":0.00684},{"p":"c5","c":"iOS.Site.Ad Type 1","s":"Site","x":14,"y":0.00657},{"p":"c5","c":"iOS.Site.Ad Type 1","s":"Site","x":15,"y":0.00666},{"p":"c5","c":"iOS.Site.Ad Type 1","s":"Site","x":16,"y":0.00728},{"p":"c5","c":"iOS.Site.Ad Type 1","s":"Site","x":17,"y":0.00701},{"p":"c5","c":"iOS.Site.Ad Type 1","s":"Site","x":18,"y":0.00652},{"p":"c5","c":"iOS.Site.Ad Type 1","s":"Site","x":19,"y":0.00643},{"p":"c5","c":"iOS.Site.Ad Type 1","s":"Site","x":20,"y":0.00618},{"p":"c5","c":"iOS.Site.Ad Type 1","s":"Site","x":21,"y":0.00625},{"p":"c5","c":"iOS.Site.Ad Type 1","s":"Site","x":22,"y":0.00683},{"p":"c5","c":"iOS.Site.Ad Type 1","s":"Site","x":23,"y":0.00657},{"p":"c5","c":"iOS.Site.Ad Type 1","s":"Site","x":24,"y":0.00612},{"p":"c5","c":"iOS.Site.Ad Type 1","s":"Site","x":25,"y":0.00650},{"p":"c5","c":"iOS.Site.Ad Type 1","s":"Site","x":26,"y":0.00625},{"p":"c5","c":"iOS.Site.Ad Type 1","s":"Site","x":27,"y":0.00634},{"p":"c5","c":"iOS.Site.Ad Type 1","s":"Site","x":28,"y":0.00692},{"p":"c5","c":"iOS.Site.Ad Type 1","s":"Site","x":29,"y":0.00666},{"p":"c5","c":"iOS.Site.Ad Type 1","s":"Site","x":30,"y":0.00621},{"p":"c5","c":"iOS.Site.Ad Type 1","s":"Site","x":31,"y":0.00646},{"p":"c5","c":"iOS.Site.Ad Type 1","s":"Site","x":32,"y":0.00621},{"p":"c5","c":"iOS.Site.Ad Type 1","s":"Site","x":33,"y":0.00630},{"p":"c5","c":"iOS.Site.Ad Type 1","s":"Site","x":34,"y":0.00688},{"p":"c5","c":"iOS.Site.Ad Type 1","s":"Site","x":35,"y":0.00661},{"p":"c5","c":"iOS.Site.Ad Type 1","s":"Site","x":36,"y":0.00618},{"p":"c5","c":"iOS.Site.Ad Type 1","s":"Site","x":37,"y":0.00697},{"p":"c5","c":"iOS.Site.Ad Type 1","s":"Site","x":38,"y":0.00670},{"p":"c5","c":"iOS.Site.Ad Type 1","s":"Site","x":39,"y":0.00679},{"p":"c5","c":"iOS.Site.Ad Type 1","s":"Site","x":40,"y":0.00739},{"p":"c5","c":"iOS.Site.Ad Type 1","s":"Site","x":41,"y":0.00715},{"p":"c5","c":"iOS.Site.Ad Type 1","s":"Site","x":42,"y":0.00666},
{"p":"c5","c":"Android.App.Ad Type 3","s":"App","x":1,"y":0.0308},{"p":"c5","c":"Android.App.Ad Type 3","s":"App","x":2,"y":0.02965},{"p":"c5","c":"Android.App.Ad Type 3","s":"App","x":3,"y":0.0300},{"p":"c5","c":"Android.App.Ad Type 3","s":"App","x":4,"y":0.0326},{"p":"c5","c":"Android.App.Ad Type 3","s":"App","x":5,"y":0.0317},{"p":"c5","c":"Android.App.Ad Type 3","s":"App","x":6,"y":0.0296},{"p":"c5","c":"Android.App.Ad Type 3","s":"App","x":7,"y":0.0280},{"p":"c5","c":"Android.App.Ad Type 3","s":"App","x":8,"y":0.0268},{"p":"c5","c":"Android.App.Ad Type 3","s":"App","x":9,"y":0.0270},{"p":"c5","c":"Android.App.Ad Type 3","s":"App","x":10,"y":0.0295},{"p":"c5","c":"Android.App.Ad Type 3","s":"App","x":11,"y":0.0286},{"p":"c5","c":"Android.App.Ad Type 3","s":"App","x":12,"y":0.0266},{"p":"c5","c":"Android.App.Ad Type 3","s":"App","x":13,"y":0.0284},{"p":"c5","c":"Android.App.Ad Type 3","s":"App","x":14,"y":0.0273},{"p":"c5","c":"Android.App.Ad Type 3","s":"App","x":15,"y":0.0276},{"p":"c5","c":"Android.App.Ad Type 3","s":"App","x":16,"y":0.0301},{"p":"c5","c":"Android.App.Ad Type 3","s":"App","x":17,"y":0.0290},{"p":"c5","c":"Android.App.Ad Type 3","s":"App","x":18,"y":0.0271},{"p":"c5","c":"Android.App.Ad Type 3","s":"App","x":19,"y":0.0268},{"p":"c5","c":"Android.App.Ad Type 3","s":"App","x":20,"y":0.0257},{"p":"c5","c":"Android.App.Ad Type 3","s":"App","x":21,"y":0.0260},{"p":"c5","c":"Android.App.Ad Type 3","s":"App","x":22,"y":0.0283},{"p":"c5","c":"Android.App.Ad Type 3","s":"App","x":23,"y":0.0273},{"p":"c5","c":"Android.App.Ad Type 3","s":"App","x":24,"y":0.0255},{"p":"c5","c":"Android.App.Ad Type 3","s":"App","x":25,"y":0.0270},{"p":"c5","c":"Android.App.Ad Type 3","s":"App","x":26,"y":0.0260},{"p":"c5","c":"Android.App.Ad Type 3","s":"App","x":27,"y":0.0263},{"p":"c5","c":"Android.App.Ad Type 3","s":"App","x":28,"y":0.0287},{"p":"c5","c":"Android.App.Ad Type 3","s":"App","x":29,"y":0.0276},{"p":"c5","c":"Android.App.Ad Type 3","s":"App","x":30,"y":0.0259},{"p":"c5","c":"Android.App.Ad Type 3","s":"App","x":31,"y":0.0269},{"p":"c5","c":"Android.App.Ad Type 3","s":"App","x":32,"y":0.0258},{"p":"c5","c":"Android.App.Ad Type 3","s":"App","x":33,"y":0.0261},{"p":"c5","c":"Android.App.Ad Type 3","s":"App","x":34,"y":0.0285},{"p":"c5","c":"Android.App.Ad Type 3","s":"App","x":35,"y":0.0277},{"p":"c5","c":"Android.App.Ad Type 3","s":"App","x":36,"y":0.0256},{"p":"c5","c":"Android.App.Ad Type 3","s":"App","x":37,"y":0.0289},{"p":"c5","c":"Android.App.Ad Type 3","s":"App","x":38,"y":0.0278},{"p":"c5","c":"Android.App.Ad Type 3","s":"App","x":39,"y":0.0281},{"p":"c5","c":"Android.App.Ad Type 3","s":"App","x":40,"y":0.0306},{"p":"c5","c":"Android.App.Ad Type 3","s":"App","x":41,"y":0.0295},{"p":"c5","c":"Android.App.Ad Type 3","s":"App","x":42,"y":0.0276},
{"p":"c5","c":"iOS.App.Ad Type 3","s":"App","x":1,"y":0.0263},{"p":"c5","c":"iOS.App.Ad Type 3","s":"App","x":2,"y":0.0252},{"p":"c5","c":"iOS.App.Ad Type 3","s":"App","x":3,"y":0.0255},{"p":"c5","c":"iOS.App.Ad Type 3","s":"App","x":4,"y":0.0279},{"p":"c5","c":"iOS.App.Ad Type 3","s":"App","x":5,"y":0.0272},{"p":"c5","c":"iOS.App.Ad Type 3","s":"App","x":6,"y":0.0260},{"p":"c5","c":"iOS.App.Ad Type 3","s":"App","x":7,"y":0.0242},{"p":"c5","c":"iOS.App.Ad Type 3","s":"App","x":8,"y":0.0228},{"p":"c5","c":"iOS.App.Ad Type 3","s":"App","x":9,"y":0.0232},{"p":"c5","c":"iOS.App.Ad Type 3","s":"App","x":10,"y":0.0251},{"p":"c5","c":"iOS.App.Ad Type 3","s":"App","x":11,"y":0.0245},{"p":"c5","c":"iOS.App.Ad Type 3","s":"App","x":12,"y":0.0228},{"p":"c5","c":"iOS.App.Ad Type 3","s":"App","x":13,"y":0.0242},{"p":"c5","c":"iOS.App.Ad Type 3","s":"App","x":14,"y":0.0232},{"p":"c5","c":"iOS.App.Ad Type 3","s":"App","x":15,"y":0.0235},{"p":"c5","c":"iOS.App.Ad Type 3","s":"App","x":16,"y":0.0257},{"p":"c5","c":"iOS.App.Ad Type 3","s":"App","x":17,"y":0.0247},{"p":"c5","c":"iOS.App.Ad Type 3","s":"App","x":18,"y":0.0232},{"p":"c5","c":"iOS.App.Ad Type 3","s":"App","x":19,"y":0.0229},{"p":"c5","c":"iOS.App.Ad Type 3","s":"App","x":20,"y":0.0219},{"p":"c5","c":"iOS.App.Ad Type 3","s":"App","x":21,"y":0.0222},{"p":"c5","c":"iOS.App.Ad Type 3","s":"App","x":22,"y":0.0241},{"p":"c5","c":"iOS.App.Ad Type 3","s":"App","x":23,"y":0.0234},{"p":"c5","c":"iOS.App.Ad Type 3","s":"App","x":24,"y":0.0217},{"p":"c5","c":"iOS.App.Ad Type 3","s":"App","x":25,"y":0.0229},{"p":"c5","c":"iOS.App.Ad Type 3","s":"App","x":26,"y":0.0222},{"p":"c5","c":"iOS.App.Ad Type 3","s":"App","x":27,"y":0.0224},{"p":"c5","c":"iOS.App.Ad Type 3","s":"App","x":28,"y":0.0244},{"p":"c5","c":"iOS.App.Ad Type 3","s":"App","x":29,"y":0.0234},{"p":"c5","c":"iOS.App.Ad Type 3","s":"App","x":30,"y":0.0220},{"p":"c5","c":"iOS.App.Ad Type 3","s":"App","x":31,"y":0.0229},{"p":"c5","c":"iOS.App.Ad Type 3","s":"App","x":32,"y":0.0220},{"p":"c5","c":"iOS.App.Ad Type 3","s":"App","x":33,"y":0.0223},{"p":"c5","c":"iOS.App.Ad Type 3","s":"App","x":34,"y":0.0243},{"p":"c5","c":"iOS.App.Ad Type 3","s":"App","x":35,"y":0.0236},{"p":"c5","c":"iOS.App.Ad Type 3","s":"App","x":36,"y":0.0219},{"p":"c5","c":"iOS.App.Ad Type 3","s":"App","x":37,"y":0.0247},{"p":"c5","c":"iOS.App.Ad Type 3","s":"App","x":38,"y":0.0237},{"p":"c5","c":"iOS.App.Ad Type 3","s":"App","x":39,"y":0.0240},{"p":"c5","c":"iOS.App.Ad Type 3","s":"App","x":40,"y":0.0261},{"p":"c5","c":"iOS.App.Ad Type 3","s":"App","x":41,"y":0.0252},{"p":"c5","c":"iOS.App.Ad Type 3","s":"App","x":42,"y":0.0236},
{"p":"c5","c":"Android.Site.Ad Type 3","s":"Site","x":1,"y":0.0130},{"p":"c5","c":"Android.Site.Ad Type 3","s":"Site","x":2,"y":0.0125},{"p":"c5","c":"Android.Site.Ad Type 3","s":"Site","x":3,"y":0.0126},{"p":"c5","c":"Android.Site.Ad Type 3","s":"Site","x":4,"y":0.0138},{"p":"c5","c":"Android.Site.Ad Type 3","s":"Site","x":5,"y":0.0133},{"p":"c5","c":"Android.Site.Ad Type 3","s":"Site","x":6,"y":0.0124},{"p":"c5","c":"Android.Site.Ad Type 3","s":"Site","x":7,"y":0.0118},{"p":"c5","c":"Android.Site.Ad Type 3","s":"Site","x":8,"y":0.0113},{"p":"c5","c":"Android.Site.Ad Type 3","s":"Site","x":9,"y":0.0114},{"p":"c5","c":"Android.Site.Ad Type 3","s":"Site","x":10,"y":0.0124},{"p":"c5","c":"Android.Site.Ad Type 3","s":"Site","x":11,"y":0.0120},{"p":"c5","c":"Android.Site.Ad Type 3","s":"Site","x":12,"y":0.0112},{"p":"c5","c":"Android.Site.Ad Type 3","s":"Site","x":13,"y":0.0120},{"p":"c5","c":"Android.Site.Ad Type 3","s":"Site","x":14,"y":0.0115},{"p":"c5","c":"Android.Site.Ad Type 3","s":"Site","x":15,"y":0.0116},{"p":"c5","c":"Android.Site.Ad Type 3","s":"Site","x":16,"y":0.0127},{"p":"c5","c":"Android.Site.Ad Type 3","s":"Site","x":17,"y":0.0122},{"p":"c5","c":"Android.Site.Ad Type 3","s":"Site","x":18,"y":0.0114},{"p":"c5","c":"Android.Site.Ad Type 3","s":"Site","x":19,"y":0.0113},{"p":"c5","c":"Android.Site.Ad Type 3","s":"Site","x":20,"y":0.0108},{"p":"c5","c":"Android.Site.Ad Type 3","s":"Site","x":21,"y":0.0109},{"p":"c5","c":"Android.Site.Ad Type 3","s":"Site","x":22,"y":0.0119},{"p":"c5","c":"Android.Site.Ad Type 3","s":"Site","x":23,"y":0.0115},{"p":"c5","c":"Android.Site.Ad Type 3","s":"Site","x":24,"y":0.0107},{"p":"c5","c":"Android.Site.Ad Type 3","s":"Site","x":25,"y":0.0114},{"p":"c5","c":"Android.Site.Ad Type 3","s":"Site","x":26,"y":0.0109},{"p":"c5","c":"Android.Site.Ad Type 3","s":"Site","x":27,"y":0.0111},{"p":"c5","c":"Android.Site.Ad Type 3","s":"Site","x":28,"y":0.0121},{"p":"c5","c":"Android.Site.Ad Type 3","s":"Site","x":29,"y":0.0116},{"p":"c5","c":"Android.Site.Ad Type 3","s":"Site","x":30,"y":0.0108},{"p":"c5","c":"Android.Site.Ad Type 3","s":"Site","x":31,"y":0.0113},{"p":"c5","c":"Android.Site.Ad Type 3","s":"Site","x":32,"y":0.0109},{"p":"c5","c":"Android.Site.Ad Type 3","s":"Site","x":33,"y":0.0110},{"p":"c5","c":"Android.Site.Ad Type 3","s":"Site","x":34,"y":0.0120},{"p":"c5","c":"Android.Site.Ad Type 3","s":"Site","x":35,"y":0.0116},{"p":"c5","c":"Android.Site.Ad Type 3","s":"Site","x":36,"y":0.0108},{"p":"c5","c":"Android.Site.Ad Type 3","s":"Site","x":37,"y":0.0122},{"p":"c5","c":"Android.Site.Ad Type 3","s":"Site","x":38,"y":0.0117},{"p":"c5","c":"Android.Site.Ad Type 3","s":"Site","x":39,"y":0.0119},{"p":"c5","c":"Android.Site.Ad Type 3","s":"Site","x":40,"y":0.0129},{"p":"c5","c":"Android.Site.Ad Type 3","s":"Site","x":41,"y":0.0125},{"p":"c5","c":"Android.Site.Ad Type 3","s":"Site","x":42,"y":0.0116},
{"p":"c5","c":"iOS.Site.Ad Type 3","s":"Site","x":1,"y":0.0110},{"p":"c5","c":"iOS.Site.Ad Type 3","s":"Site","x":2,"y":0.0106},{"p":"c5","c":"iOS.Site.Ad Type 3","s":"Site","x":3,"y":0.0108},{"p":"c5","c":"iOS.Site.Ad Type 3","s":"Site","x":4,"y":0.0117},{"p":"c5","c":"iOS.Site.Ad Type 3","s":"Site","x":5,"y":0.0113},{"p":"c5","c":"iOS.Site.Ad Type 3","s":"Site","x":6,"y":0.0106},{"p":"c5","c":"iOS.Site.Ad Type 3","s":"Site","x":7,"y":0.0100},{"p":"c5","c":"iOS.Site.Ad Type 3","s":"Site","x":8,"y":0.0096},{"p":"c5","c":"iOS.Site.Ad Type 3","s":"Site","x":9,"y":0.0097},{"p":"c5","c":"iOS.Site.Ad Type 3","s":"Site","x":10,"y":0.0106},{"p":"c5","c":"iOS.Site.Ad Type 3","s":"Site","x":11,"y":0.0102},{"p":"c5","c":"iOS.Site.Ad Type 3","s":"Site","x":12,"y":0.0095},{"p":"c5","c":"iOS.Site.Ad Type 3","s":"Site","x":13,"y":0.0102},{"p":"c5","c":"iOS.Site.Ad Type 3","s":"Site","x":14,"y":0.0097},{"p":"c5","c":"iOS.Site.Ad Type 3","s":"Site","x":15,"y":0.0099},{"p":"c5","c":"iOS.Site.Ad Type 3","s":"Site","x":16,"y":0.0108},{"p":"c5","c":"iOS.Site.Ad Type 3","s":"Site","x":17,"y":0.0104},{"p":"c5","c":"iOS.Site.Ad Type 3","s":"Site","x":18,"y":0.0097},{"p":"c5","c":"iOS.Site.Ad Type 3","s":"Site","x":19,"y":0.0095},{"p":"c5","c":"iOS.Site.Ad Type 3","s":"Site","x":20,"y":0.0092},{"p":"c5","c":"iOS.Site.Ad Type 3","s":"Site","x":21,"y":0.0093},{"p":"c5","c":"iOS.Site.Ad Type 3","s":"Site","x":22,"y":0.0101},{"p":"c5","c":"iOS.Site.Ad Type 3","s":"Site","x":23,"y":0.0098},{"p":"c5","c":"iOS.Site.Ad Type 3","s":"Site","x":24,"y":0.0091},{"p":"c5","c":"iOS.Site.Ad Type 3","s":"Site","x":25,"y":0.0097},{"p":"c5","c":"iOS.Site.Ad Type 3","s":"Site","x":26,"y":0.0093},{"p":"c5","c":"iOS.Site.Ad Type 3","s":"Site","x":27,"y":0.0094},{"p":"c5","c":"iOS.Site.Ad Type 3","s":"Site","x":28,"y":0.0103},{"p":"c5","c":"iOS.Site.Ad Type 3","s":"Site","x":29,"y":0.0099},{"p":"c5","c":"iOS.Site.Ad Type 3","s":"Site","x":30,"y":0.0092},{"p":"c5","c":"iOS.Site.Ad Type 3","s":"Site","x":31,"y":0.0096},{"p":"c5","c":"iOS.Site.Ad Type 3","s":"Site","x":32,"y":0.0092},{"p":"c5","c":"iOS.Site.Ad Type 3","s":"Site","x":33,"y":0.0094},{"p":"c5","c":"iOS.Site.Ad Type 3","s":"Site","x":34,"y":0.0102},{"p":"c5","c":"iOS.Site.Ad Type 3","s":"Site","x":35,"y":0.0098},{"p":"c5","c":"iOS.Site.Ad Type 3","s":"Site","x":36,"y":0.0092},{"p":"c5","c":"iOS.Site.Ad Type 3","s":"Site","x":37,"y":0.0104},{"p":"c5","c":"iOS.Site.Ad Type 3","s":"Site","x":38,"y":0.0099},{"p":"c5","c":"iOS.Site.Ad Type 3","s":"Site","x":39,"y":0.0101},{"p":"c5","c":"iOS.Site.Ad Type 3","s":"Site","x":40,"y":0.0110},{"p":"c5","c":"iOS.Site.Ad Type 3","s":"Site","x":41,"y":0.0106},{"p":"c5","c":"iOS.Site.Ad Type 3","s":"Site","x":42,"y":0.0099}
]},
"spacing": 22,
"resolve": {"scale": {"color": "shared", "strokeDash": "shared", "y": "independent", "x": "independent"}},
"hconcat": [
{
  "width": 416, "height": 536,
  "title": {"text": "Cluster 1 : 39 campaigns ( 7969 rows)"},
  "transform": [{"filter": "datum.p == 'c1'"}],
  "mark": {"type": "line", "strokeWidth": 1.6, "clip": true},
  "encoding": {
    "x": {"field": "x", "type": "quantitative", "title": null, "scale": {"domain": [-1.05, 44.05], "nice": false, "zero": false},
      "axis": {"values": [0,5,10,15,20,25,30,35,40], "labelExpr": "datum.value % 10 == 0 ? datum.label : ''", "labelPadding": 4, "gridWidth": {"condition": {"test": "datum.value % 10 != 0", "value": 0.8}, "value": 1.6}}},
    "y": {"field": "y", "type": "quantitative", "title": "Mean CTR", "scale": {"domain": [-0.0157, 0.8235], "nice": false, "zero": false},
      "axis": {"values": [0,0.1,0.2,0.3,0.4,0.5,0.6,0.7,0.8], "format": ".1f", "labelExpr": "round(datum.value*10) % 2 == 1 ? '' : datum.label", "labelPadding": 10, "titlePadding": 8, "gridWidth": {"condition": {"test": "round(datum.value*10) % 2 == 1", "value": 0.8}, "value": 1.6}}},
    "color": {"field": "c", "type": "nominal", "title": "Context",
      "scale": {"domain": ["Android.App.Ad Type 1","iOS.App.Ad Type 1","Android.Site.Ad Type 1","iOS.Site.Ad Type 1","Android.App.Ad Type 3","iOS.App.Ad Type 3","Android.Site.Ad Type 3","iOS.Site.Ad Type 3"],
                "range": ["#B2182B","#2166AC","#67001F","#053061","#FC9272","#9ECAE1","#EF3B2C","#4292C6"]},
      "legend": {"orient": "none", "legendX": 940, "legendY": 206, "symbolType": "stroke", "symbolSize": 576, "symbolStrokeWidth": 1.6, "rowPadding": 6, "titlePadding": 13, "labelOffset": 13, "labelLimit": 400}},
    "strokeDash": {"field": "s", "type": "nominal", "title": "Support",
      "scale": {"domain": ["App","Site"], "range": [[2,4.5,6.5,4.5],[1,0]]},
      "legend": {"orient": "none", "legendX": 940, "legendY": 71, "symbolType": "stroke", "symbolSize": 576, "symbolStrokeWidth": 1.6, "symbolStrokeColor": "#000000", "rowPadding": 6, "titlePadding": 13, "labelOffset": 13}}
  }
},
{
  "width": 407, "height": 536,
  "title": {"text": "Cluster 5 : 73 campaigns ( 17691 rows)"},
  "transform": [{"filter": "datum.p == 'c5'"}],
  "mark": {"type": "line", "strokeWidth": 1.6, "clip": true},
  "encoding": {
    "x": {"field": "x", "type": "quantitative", "title": null, "scale": {"domain": [-1.05, 44.05], "nice": false, "zero": false},
      "axis": {"values": [0,5,10,15,20,25,30,35,40], "labelExpr": "datum.value % 10 == 0 ? datum.label : ''", "labelPadding": 4, "gridWidth": {"condition": {"test": "datum.value % 10 != 0", "value": 0.8}, "value": 1.6}}},
    "y": {"field": "y", "type": "quantitative", "title": "Mean CTR", "scale": {"domain": [0.00482, 0.03397], "nice": false, "zero": false},
      "axis": {"values": [0.005,0.01,0.015,0.02,0.025,0.03], "format": ".2f", "labelExpr": "round(datum.value*1000) % 10 == 5 ? '' : datum.label", "labelPadding": 10, "titlePadding": 8, "gridWidth": {"condition": {"test": "round(datum.value*1000) % 10 == 5", "value": 0.8}, "value": 1.6}}},
    "color": {"field": "c", "type": "nominal", "title": "Context"},
    "strokeDash": {"field": "s", "type": "nominal", "title": "Support"}
  }
}
]
}
